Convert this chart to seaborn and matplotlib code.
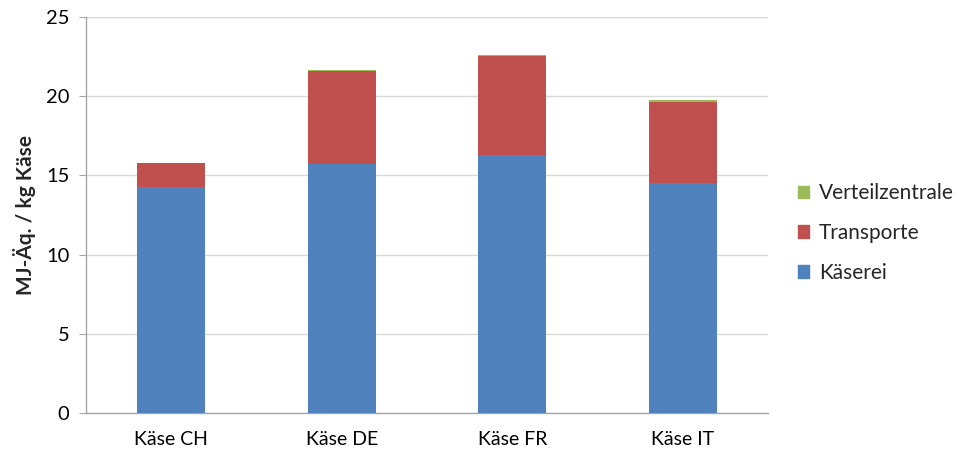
import matplotlib
matplotlib.use("Agg")
import matplotlib.pyplot as plt
from matplotlib.patches import Patch
import seaborn as sns
import pandas as pd
import numpy as np

## data
laender = ['Käse CH', 'Käse DE', 'Käse FR', 'Käse IT']
kaeserei = [14.29, 15.70, 16.29, 14.50]
transporte = [1.47, 5.87, 6.23, 5.15]
verteilzentrale = [0.04, 0.08, 0.08, 0.07]

farben = {'Käserei': '#4F81BD', 'Transporte': '#C0504D', 'Verteilzentrale': '#9BBB59'}

sns.set_style("white")
plt.rcParams['font.family'] = ['Lato', 'DejaVu Sans']

df = pd.DataFrame({'Land': laender, 'Käserei': kaeserei,
                   'Transporte': transporte, 'Verteilzentrale': verteilzentrale})
df['cum_k'] = df['Käserei']
df['cum_t'] = df['cum_k'] + df['Transporte']
df['cum_v'] = df['cum_t'] + df['Verteilzentrale']

fig = plt.figure(figsize=(9.62, 4.57), dpi=100)
ax = fig.add_axes([0.0894, 0.0963, 0.709, 0.867])

## stacked bars: draw cumulative totals from top down
for col, name in [('cum_v', 'Verteilzentrale'), ('cum_t', 'Transporte'), ('cum_k', 'Käserei')]:
    sns.barplot(data=df, x='Land', y=col, color=farben[name], width=0.4,
                saturation=1, ax=ax, linewidth=0, zorder=3)

ax.set_xlim(-0.5, 3.5)
ax.set_ylim(0, 25)
ax.set_yticks(np.arange(0, 26, 5))
ax.yaxis.grid(True, color='#d9d9d9', linewidth=1, zorder=0)
ax.set_axisbelow(True)

for s in ['top', 'right']:
    ax.spines[s].set_visible(False)
for s in ['left', 'bottom']:
    ax.spines[s].set_color('#a6a6a6')
    ax.spines[s].set_linewidth(1)

ax.set_xticks(range(len(laender)))
ax.set_xticklabels(laender)
ax.set_xticks(np.arange(-0.5, 4, 1), minor=True)
ax.tick_params(axis='x', which='major', length=0, pad=13, labelsize=14, labelcolor='black')
ax.tick_params(axis='x', which='minor', length=5, color='#a6a6a6', direction='out')
ax.tick_params(axis='y', length=5, color='#a6a6a6', direction='out', pad=7,
               labelsize=14.5, labelcolor='black', left=True)

ax.set_xlabel('')
ax.set_ylabel('MJ-Äq. / kg Käse', fontsize=15, fontweight='bold', labelpad=7)

handles = [Patch(color=farben[n], label=n) for n in ['Verteilzentrale', 'Transporte', 'Käserei']]
leg = fig.legend(handles=handles, loc='center left', bbox_to_anchor=(0.81, 0.49),
                 frameon=False, fontsize=15, handlelength=0.55, handleheight=0.55,
                 handletextpad=0.45, labelspacing=0.95)

plt.savefig('out.png', dpi=100)
